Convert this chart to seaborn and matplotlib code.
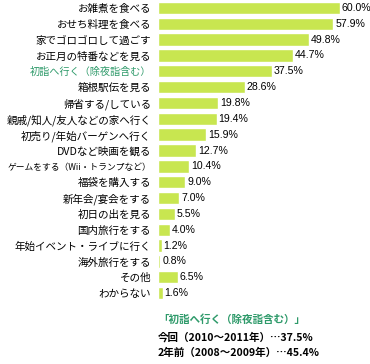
import matplotlib
matplotlib.use("Agg")
import matplotlib.pyplot as plt
import seaborn as sns
import pandas as pd

categories = [
    "お雑煮を食べる", "おせち料理を食べる", "家でゴロゴロして過ごす", "お正月の特番などを見る",
    "初詣へ行く（除夜詣含む）", "箱根駅伝を見る", "帰省する/している", "親戚/知人/友人などの家へ行く",
    "初売り/年始バーゲンへ行く", "DVDなど映画を観る", "ゲームをする（Wii・トランプなど）", "福袋を購入する",
    "新年会/宴会をする", "初日の出を見る", "国内旅行をする", "年始イベント・ライブに行く",
    "海外旅行をする", "その他", "わからない",
]
values = [60.0, 57.9, 49.8, 44.7, 37.5, 28.6, 19.8, 19.4, 15.9, 12.7, 10.4, 9.0, 7.0, 5.5, 4.0, 1.2, 0.8, 6.5, 1.6]
highlight = "初詣へ行く（除夜詣含む）"
note_lines = ["「初詣へ行く（除夜詣含む）」", "今回（2010～2011年）…37.5%", "2年前（2008～2009年）…45.4%"]

sns.set_theme(style="white")
plt.rcParams['font.family'] = ['Noto Sans CJK JP', 'DejaVu Sans']

df = pd.DataFrame({"cat": categories, "val": values})

fig = plt.figure(figsize=(3.70, 3.64), dpi=100)
ax = fig.add_axes([158/370, 1 - 301/364, 212/370, 301/364])
sns.barplot(data=df, y="cat", x="val", orient="h", color="#c8e650", saturation=1,
            width=0.78, ax=ax)
ax.set_xlim(0, 70)
ax.set_ylim(len(categories) - 0.5, -0.5)
for s in ax.spines.values():
    s.set_visible(False)
ax.set_xticks([])
ax.set_xlabel("")
ax.set_ylabel("")
ax.tick_params(axis="y", length=0, pad=5, labelsize=7.6)
for lab in ax.get_yticklabels():
    t = lab.get_text()
    if t == highlight:
        lab.set_color("#2e9a6a")
        lab.set_fontsize(7.3)
    else:
        lab.set_color("black")
    if "Wii" in t:
        lab.set_fontsize(6.3)

for i, v in enumerate(values):
    ax.text(v + 0.6, i, f"{v:.1f}%", va="center", ha="left", fontsize=7.6,
            family=["Liberation Sans", "DejaVu Sans"], color="black")

fig.text(158/370, 1 - 320/364, note_lines[0], color="#2e9a6a", fontsize=7.6,
         fontweight="bold", va="center", ha="left")
fig.text(158/370, 1 - 337/364, note_lines[1], color="black", fontsize=7.6,
         fontweight="bold", va="center", ha="left")
fig.text(158/370, 1 - 353/364, note_lines[2], color="black", fontsize=7.6,
         fontweight="bold", va="center", ha="left")

fig.savefig("out.png", dpi=100, facecolor="white")
